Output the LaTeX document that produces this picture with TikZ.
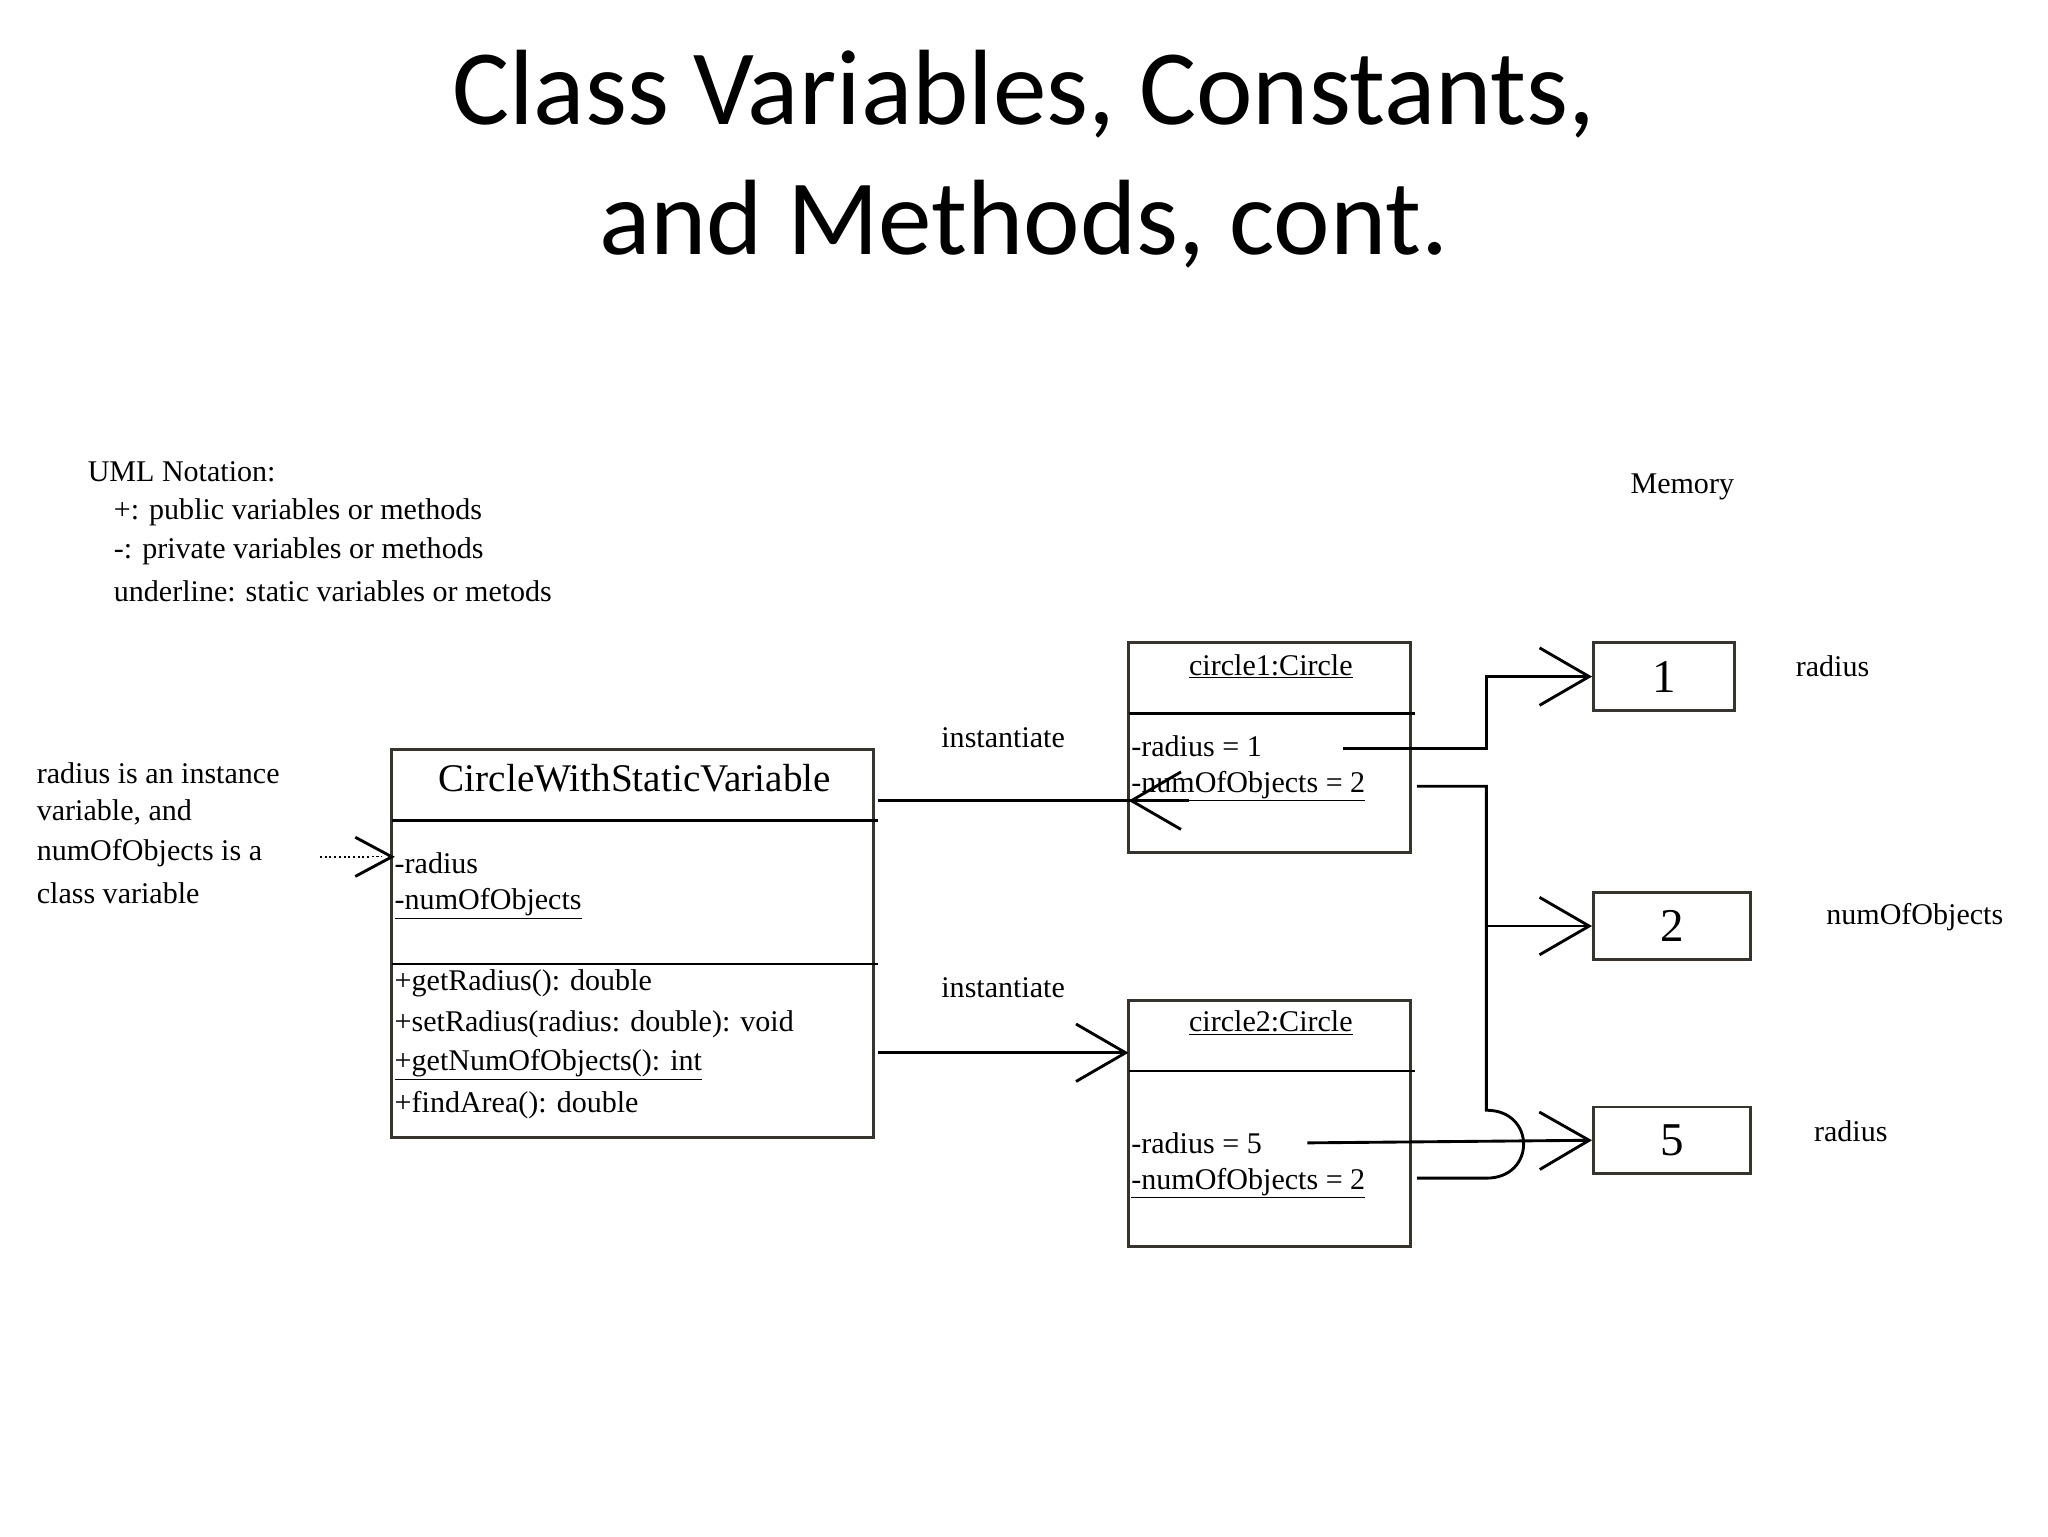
\documentclass[tikz,border=0pt]{standalone}
\usepackage{fontspec}
\setmainfont{Liberation Serif}
\newfontfamily\titlefont{Carlito}
\usetikzlibrary{arrows.meta}
\begin{document}
\begin{tikzpicture}[x=1pt,y=-1pt,
  box/.style={draw=black!80!olive,line width=2.2pt},
  sep/.style={line width=2.2pt},
  conn/.style={line width=2.2pt},
  barb/.style={-{Straight Barb[length=38pt,width=44pt,line width=2.2pt]}},
  txt/.style={font=\fontsize{23}{26}\selectfont,inner sep=0pt},
  lt/.style={txt,anchor=west}]
\useasboundingbox (0,0) rectangle (1568,1176);
\node[font=\titlefont\fontsize{82}{100}\selectfont,align=center] (title) at (784,122) {Class Variables, Constants,\\and Methods, cont.};
% notation
\node[lt] (n1) at (67,361) {UML Notation:};
\node[lt] (n2) at (87,392) {+: public variables or methods};
\node[lt] (n3) at (87,422) {-: private variables or methods};
\node[lt] (n4) at (87,453) {underline: static variables or metods};
\node[lt] (l1) at (28,592) {radius is an instance};
\node[lt] (l2) at (28,622) {variable, and};
\node[lt] (l3) at (28,653) {numOfObjects is a};
\node[lt] (l4) at (28,684) {class variable};
% class box
\draw[box] (300,574) rectangle (669,871);
\draw[sep] (300,628) -- (672,628) (300,738) -- (672,738);
\node[txt,font=\fontsize{30}{34}\selectfont] (cname) at (486,596) {CircleWithStaticVariable};
\coordinate (clsleft) at (300,656);
\node[lt] (a1) at (302,661) {-radius};
\node[lt] (a2) at (302,692) {\underline{-numOfObjects}};
\node[lt] (m1) at (302,753) {+getRadius(): double};
\node[lt] (m2) at (302,784) {+setRadius(radius: double): void};
\node[lt] (m3) at (302,815) {\underline{+getNumOfObjects(): int}};
\node[lt] (m4) at (302,846) {+findArea(): double};
% circle1
\draw[box] (864,492) rectangle (1080,653);
\draw[sep] (864,546) -- (1083,546);
\node[txt] (c1t) at (973,510) {\underline{circle1:Circle}};
\node[lt] (c1a) at (866,571) {-radius = 1};
\node[lt] (c1b) at (866,602) {\underline{-numOfObjects = 2}};
% circle2
\draw[box] (864,766) rectangle (1080,954);
\draw[sep] (864,820) -- (1083,820);
\node[txt] (c2t) at (973,783) {\underline{circle2:Circle}};
\node[lt] (c2a) at (866,875) {-radius = 5};
\node[lt] (c2b) at (866,906) {\underline{-numOfObjects = 2}};
% memory
\node[txt] (mem) at (1288,373) {Memory};
\node[box,minimum width=108pt,minimum height=52pt,font=\fontsize{36}{40}\selectfont,inner sep=0pt] (v1) at (1274,518) {1};
\node[box,minimum width=120pt,minimum height=51pt,font=\fontsize{36}{40}\selectfont,inner sep=0pt] (v2) at (1280,709) {2};
\node[box,minimum width=120pt,minimum height=51pt,font=\fontsize{36}{40}\selectfont,inner sep=0pt] (v5) at (1280,873) {5};
\node[txt] (r1) at (1403,510) {radius};
\node[txt] (r2) at (1466,702) {numOfObjects};
\node[txt] (r3) at (1417,866) {radius};
% instantiate
\node[txt] (i1) at (768,565) {instantiate};
\node[txt] (i2) at (768,756) {instantiate};
\coordinate (s1) at (672,613);
\coordinate (s2) at (672,806);
\draw[conn,barb] (s1) -- (s1 -| c1t.west) -- (864,613);
\draw[conn,barb] (s2) -- (864,806);
% dotted
\coordinate (dstart) at (245,656);
\draw[line width=1.6pt,dotted] (dstart) -- (292,656);
\draw[-{Straight Barb[length=28pt,width=30pt,line width=2.2pt]},line width=0.1pt,white] (285,656) -- (clsleft);
\draw[line width=2.2pt] (272,641) -- (300,656) -- (272,671);
% memory links
\coordinate (p1) at (1028,573);
\coordinate (p2) at (1085,602);
\coordinate (p3) at (1001,875);
\coordinate (p4) at (1085,902);
\draw[conn,barb,line join=miter] (p1) -- (1138,573) -- (1138,518) -- (v1.west);
\draw[conn,line join=miter] (p2) -- (1138,602) -- (1138,850) .. controls (1176,850) and (1176,902) .. (1138,902) -- (p4);
\draw[conn,barb] (1138,709) -- (v2.west);
\draw[conn,barb] (p3) -- (v5.west);
\end{tikzpicture}
\end{document}
